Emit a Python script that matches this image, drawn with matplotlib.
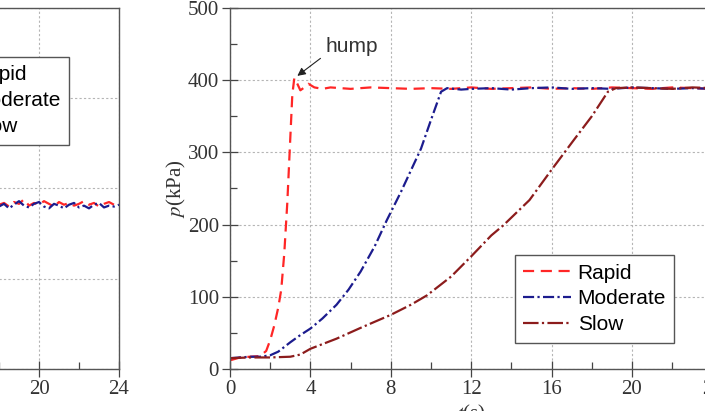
import matplotlib.pyplot as plt
from matplotlib.ticker import MultipleLocator

plt.rcParams['mathtext.fontset'] = 'stix'

# right panel: pressure p (kPa) against time t (s)
t_rapid = [0, 0.5, 1.0, 1.5, 1.8, 2.0, 2.2, 2.4, 2.55, 2.7, 2.85, 3.0, 3.1, 3.2,
           3.35, 3.5, 3.7, 3.9, 4.2, 4.6, 5.0, 6, 7, 8, 9, 10, 11, 12, 13, 14,
           15, 16, 17, 18, 19, 20, 21, 22, 23, 24]
p_rapid = [12, 16, 17, 18, 25, 40, 60, 85, 110, 160, 230, 320, 380, 403,
           395, 386, 390, 395, 390, 388, 390, 388, 390, 389, 388, 389, 388, 390, 388, 389,
           390, 388, 389, 388, 390, 389, 388, 390, 389, 388]

t_moderate = [0, 0.5, 1, 1.5, 2, 2.4, 3, 3.5, 4, 4.6, 5.3, 5.9, 6.5, 7.2, 7.8,
              8.5, 9.0, 9.5, 10.0, 10.5, 10.8, 11.5, 12, 13, 14, 15, 16, 17, 18,
              19, 20, 21, 22, 23, 24]
p_moderate = [15, 16, 17, 17, 19, 24, 37, 47, 56, 70, 89, 110, 135, 170, 206,
              245, 275, 305, 345, 384, 389, 387, 388, 389, 387, 389, 390, 388, 389,
              388, 390, 389, 388, 389, 388]

t_slow = [0, 1, 2, 3, 3.5, 4, 5.3, 6.5, 8, 9, 9.8, 11, 12, 13, 13.6, 14.9, 16,
          17.1, 18, 18.8, 19.2, 20, 21, 22, 23, 24]
p_slow = [15, 16, 16, 17, 20, 28, 42, 57, 75, 89, 102, 128, 156, 185, 199, 234, 276,
          317, 350, 384, 389, 390, 389, 388, 390, 389]

# left panel (only its right edge is visible)
t_left = [18, 18.25, 18.5, 18.75, 19, 19.25, 19.5, 19.75, 20, 20.25, 20.5, 20.75,
          21, 21.25, 21.5, 21.75, 22, 22.25, 22.5, 22.75, 23, 23.25, 23.5, 23.75, 24]
v_left_rapid = [182, 184, 180, 185, 183, 188, 181, 184, 182, 186, 183, 180, 185,
                182, 184, 181, 183, 186, 182, 184, 180, 183, 185, 182, 183]
v_left_moderate = [180, 183, 178, 182, 186, 181, 179, 183, 185, 180, 178, 183, 181,
                   178, 182, 184, 179, 181, 178, 182, 184, 179, 181, 180, 182]

labels = ['Rapid', 'Moderate', 'Slow']
colors = ['#ff2626', '#1c1c8e', '#8c1c1c']
styles = [(0, (5, 3)), (0, (5, 1.5, 1, 1.5)), (0, (7, 1.5, 1, 1.5))]

serif = 'Liberation Serif'
sans = 'Liberation Sans'

fig = plt.figure(figsize=(7.05, 4.11), dpi=100)


def style_axis(ax):
    ax.set_xlim(0, 24)
    ax.xaxis.set_major_locator(MultipleLocator(4))
    ax.xaxis.set_minor_locator(MultipleLocator(2))
    ax.grid(True, which='major', color='#b5b5b5', linestyle=(0, (2, 2)), linewidth=0.8)
    ax.tick_params(which='major', direction='inout', length=12, width=0.9,
                   color='#444444', labelsize=15, labelcolor='#333333', pad=2)
    ax.tick_params(which='minor', direction='in', length=5, width=0.9, color='#444444')
    for s in ax.spines.values():
        s.set_color('#555555')
        s.set_linewidth(1.0)
    for lab in ax.get_xticklabels() + ax.get_yticklabels():
        lab.set_family(serif)


legend_kw = dict(borderaxespad=0, prop={'family': sans, 'size': 15}, frameon=True,
                 fancybox=False, edgecolor='#555555', handlelength=2.3,
                 handletextpad=0.3, labelspacing=0.33, borderpad=0.4, framealpha=1)

# left panel
ax1 = fig.add_axes([-361 / 705, 42 / 411, 480 / 705, 361 / 411])
ax1.set_ylim(0, 400)
ax1.yaxis.set_major_locator(MultipleLocator(100))
ax1.yaxis.set_minor_locator(MultipleLocator(50))
ax1.plot(t_left, v_left_rapid, color=colors[0], linestyle=styles[0], lw=1.6, label=labels[0])
ax1.plot(t_left, v_left_moderate, color=colors[1], linestyle=styles[1], lw=1.6, label=labels[1])
ax1.plot([], [], color=colors[2], linestyle=styles[2], lw=1.6, label=labels[2])
style_axis(ax1)
ax1.legend(loc='upper right', bbox_to_anchor=(0.896, 0.864), **legend_kw)

# right panel
ax2 = fig.add_axes([230 / 705, 42 / 411, 482.4 / 705, 361 / 411])
ax2.plot(t_rapid, p_rapid, color=colors[0], linestyle=styles[0], lw=1.6, label=labels[0])
ax2.plot(t_moderate, p_moderate, color=colors[1], linestyle=styles[1], lw=1.6, label=labels[1])
ax2.plot(t_slow, p_slow, color=colors[2], linestyle=styles[2], lw=1.6, label=labels[2])
ax2.set_ylim(0, 500)
ax2.yaxis.set_major_locator(MultipleLocator(100))
ax2.yaxis.set_minor_locator(MultipleLocator(50))
style_axis(ax2)
ax2.set_ylabel(r'$p$(kPa)', family=serif, fontsize=15, color='#333333', labelpad=0)
ax2.set_xlabel(r'$t$(s)', family=serif, fontsize=15, color='#333333', labelpad=3)
ax2.annotate('hump', xy=(3.35, 406), xytext=(4.75, 446),
             fontsize=15, family=sans, color='#333333', va='center', ha='left',
             arrowprops=dict(arrowstyle='-|>', color='#222222', lw=0.8,
                             mutation_scale=12, shrinkA=2, shrinkB=0,
                             relpos=(0.0, 0.1)))
ax2.legend(loc='lower right', bbox_to_anchor=(0.921, 0.073), **legend_kw)

fig.savefig('out.png', dpi=100)
